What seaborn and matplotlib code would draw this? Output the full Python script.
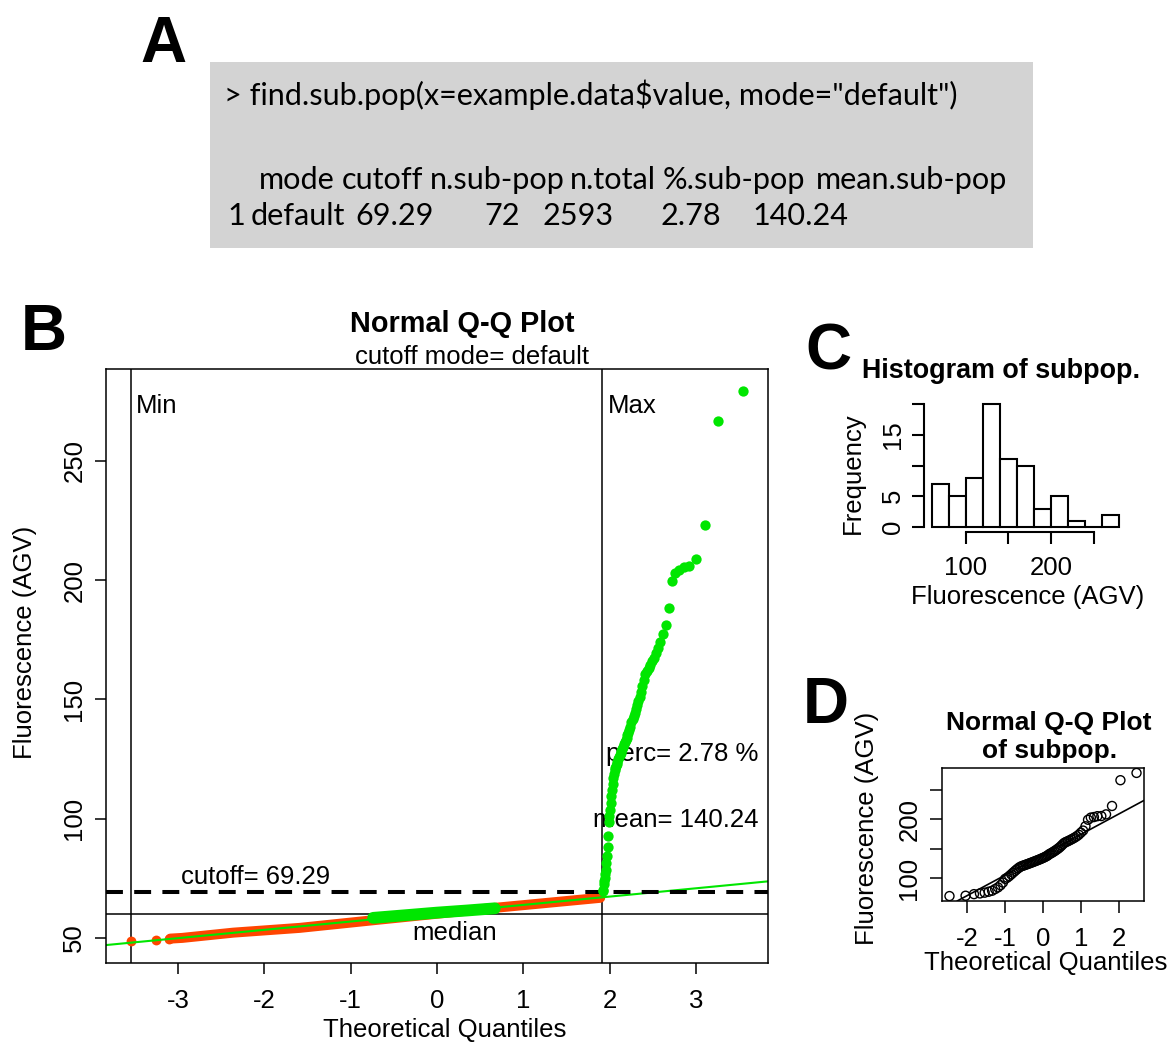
import numpy as np
import matplotlib
matplotlib.use("Agg")
import matplotlib.pyplot as plt
from matplotlib.patches import Rectangle
import seaborn as sns
from statistics import NormalDist

# ---------------- data ----------------
call_text = '> find.sub.pop(x=example.data$value, mode="default")'
summary_header = ["mode", "cutoff", "n.sub-pop", "n.total", "%.sub-pop", "mean.sub-pop"]
summary_row = ["1", "default", "69.29", "72", "2593", "2.78", "140.24"]

n_total = 2593
cutoff = 69.29
median_value = 59.9
quartiles_all = [58.0, 62.7]
perc_sub = 2.78
mean_sub = 140.24

# values above the cutoff (sub-population), ascending
subpop = [69.5, 70.1, 72.8, 74.0, 75.3, 76.9, 78.6,
          81.5, 84.3, 88.0, 92.6, 98.8,
          100.9, 103.6, 106.5, 109.4, 112.1, 114.6, 116.9, 118.9,
          120.3, 121.2, 122.1, 123.0, 123.9, 124.8, 125.7, 126.6, 127.5, 128.4,
          129.3, 130.2, 131.1, 132.0, 133.0, 134.0, 135.0, 136.1, 137.3, 138.6,
          140.6, 141.8, 143.1, 144.5, 146.0, 147.6, 149.3, 151.1, 153.2, 155.6, 158.3,
          160.5, 161.7, 163.0, 164.4, 165.9, 167.5, 169.3, 171.4, 174.0, 177.5,
          181.1, 188.4, 199.5,
          203.2, 204.1, 205.6, 205.8, 208.7,
          223.0,
          266.9, 279.3]

# the three lowest observations of the whole sample
low_tail_values = [48.7, 49.3, 49.7]
# main body of the sample below the cutoff (quantile, value)
bulk_quantiles = [-3.09, -2.95, -2.36, -1.59, -0.74, 0.67, 1.31, 1.89]
bulk_values = [49.7, 50.0, 52.2, 54.2, 57.4, 62.6, 64.8, 66.8]
# central part of the sample around the median
central_quantiles = [-0.74, -0.40, 0.00, 0.35, 0.67]
central_values = [58.4, 59.4, 60.6, 61.5, 62.4]

hist_breaks = list(range(60, 281, 20))

# ---------------- helpers ----------------
RED = "#ff4500"
GREEN = "#00e600"
W, H = 1176, 1043
nd = NormalDist()


def r_range(lo, hi):
    pad = 0.04 * (hi - lo)
    return lo - pad, hi + pad


def ppoints(n):
    a = 3 / 8 if n <= 10 else 0.5
    return [(i - a) / (n + 1 - 2 * a) for i in range(1, n + 1)]


sns.set_theme(style="ticks", rc={
    "axes.edgecolor": "black", "axes.linewidth": 1.1,
    "xtick.color": "black", "ytick.color": "black",
    "text.color": "black", "axes.labelcolor": "black",
    "axes.facecolor": "white", "figure.facecolor": "white",
    "axes.unicode_minus": False,
})
plt.rcParams["font.family"] = ["Liberation Sans", "DejaVu Sans"]
plt.rcParams["axes.unicode_minus"] = False

fig = plt.figure(figsize=(W / 100, H / 100), dpi=100)


def px_axes(x0, y0, x1, y1):
    return fig.add_axes([x0 / W, 1 - y1 / H, (x1 - x0) / W, (y1 - y0) / H])


def ftext(x, y, s, **kw):
    return fig.text(x / W, 1 - y / H, s, **kw)


LAB = 18.5

# ---------------- panel letters ----------------
for letter, (lx, ly) in zip("ABCD", [(140, 62), (21, 350), (805, 370), (803, 723)]):
    ftext(lx, ly, letter, fontsize=46, fontweight="bold", ha="left", va="baseline")

# ---------------- panel A: console output ----------------
fig.patches.append(Rectangle((210 / W, 1 - 248 / H), (1033 - 210) / W, (248 - 62) / H,
                             transform=fig.transFigure, facecolor="#d3d3d3",
                             edgecolor="none", zorder=0))
console_font = ["Lato", "DejaVu Sans"]
t_call = ftext(224, 105, call_text, family=console_font, fontsize=20, va="baseline")
fig.canvas.draw()
fs_console = 20 * (960 - 224) / t_call.get_window_extent().width
t_call.set_fontsize(fs_console)

header_x = [259, 342, 430, 570, 663, 816]
row_x = [227, 251, 355, 484, 543, 661, 752]
for s, x in zip(summary_header, header_x):
    ftext(x, 189, s, family=console_font, fontsize=fs_console, va="baseline")
for s, x in zip(summary_row, row_x):
    ftext(x, 225, s, family=console_font, fontsize=fs_console, va="baseline")

# ---------------- panel B: Q-Q plot of the whole sample ----------------
axB = px_axes(106, 369, 768, 963)
low_q = [nd.inv_cdf(p) for p in [(i - 0.5) / n_total for i in (1, 2, 3)]]
top_q = [nd.inv_cdf((i - 0.5) / n_total) for i in range(n_total - len(subpop) + 1, n_total + 1)]
min_line = low_q[0]
max_line = nd.inv_cdf(1 - len(subpop) / n_total)

axB.set_xlim(*r_range(low_q[0], top_q[-1]))
axB.set_ylim(*r_range(min(low_tail_values), max(subpop)))

axB.axvline(min_line, color="black", lw=1.1, zorder=1)
axB.axvline(max_line, color="black", lw=1.1, zorder=1)
axB.axhline(median_value, color="black", lw=1.1, zorder=1)

sns.lineplot(x=bulk_quantiles, y=bulk_values, ax=axB, color=RED, linewidth=7.2,
             estimator=None, sort=False, solid_capstyle="round", zorder=2)
sns.scatterplot(x=low_q, y=low_tail_values, ax=axB, color=RED, s=50, linewidth=0, zorder=2)
sns.lineplot(x=central_quantiles, y=central_values, ax=axB, color=GREEN, linewidth=8.5,
             estimator=None, sort=False, solid_capstyle="round", zorder=2.2)
axB.axline((nd.inv_cdf(0.25), quartiles_all[0]), (nd.inv_cdf(0.75), quartiles_all[1]),
           color=GREEN, lw=1.5, zorder=2.4)
axB.axhline(cutoff, color="black", lw=2.9, dashes=(4.2, 2.8), zorder=2.6)
sns.scatterplot(x=top_q, y=subpop, ax=axB, color=GREEN, s=55, linewidth=0, zorder=4)

axB.text(min_line + 0.06, 273, "Min", fontsize=LAB, ha="left", va="center")
axB.text(max_line + 0.06, 273, "Max", fontsize=LAB, ha="left", va="center")
axB.text(-2.96, 75.6, f"cutoff= {cutoff:.2f}", fontsize=LAB, ha="left", va="center")
axB.text(0.2, 52.0, "median", fontsize=LAB, ha="center", va="center")
axB.text(3.72, 127.0, f"perc= {perc_sub:.2f} %", fontsize=LAB, ha="right", va="center")
axB.text(3.72, 99.6, f"mean= {mean_sub:.2f}", fontsize=LAB, ha="right", va="center")

axB.set_xticks(range(-3, 4))
axB.set_yticks(range(50, 251, 50))
axB.tick_params(axis="both", length=7.9, width=1.1, labelsize=LAB)
axB.tick_params(axis="x", pad=10.6)
axB.tick_params(axis="y", pad=6.3)
for lab in axB.get_yticklabels():
    lab.set_rotation(90)
    lab.set_va("center")
axB.set_xlabel("")
axB.set_ylabel("")
for sp in axB.spines.values():
    sp.set_visible(True)
    sp.set_linewidth(1.1)

ftext(462, 331.7, "Normal Q-Q Plot", fontsize=20.8, fontweight="bold", ha="center", va="baseline")
ftext(472, 364, "cutoff mode= default", fontsize=LAB, ha="center", va="baseline")
ftext(445, 1030, "Theoretical Quantiles", fontsize=LAB, ha="center", va="center")
ftext(25, 642, "Fluorescence (AGV)", fontsize=LAB, ha="center", va="center", rotation=90)

# ---------------- panel C: histogram of the sub-population ----------------
axC = px_axes(924, 399, 1127, 532)
counts, _ = np.histogram(subpop, bins=hist_breaks)
sns.histplot(x=subpop, bins=hist_breaks, ax=axC, color="white", edgecolor="black",
             linewidth=1.5, alpha=1)
axC.set_xlim(*r_range(hist_breaks[0], hist_breaks[-1]))
axC.set_ylim(*r_range(0, counts.max()))
axC.spines["top"].set_visible(False)
axC.spines["right"].set_visible(False)
axC.spines["left"].set_bounds(0, 20)
axC.spines["bottom"].set_bounds(100, 250)
for sp in ("left", "bottom"):
    axC.spines[sp].set_linewidth(1.5)
axC.set_yticks([0, 5, 10, 15, 20])
axC.set_yticklabels(["0", "5", "", "15", ""])
axC.set_xticks([100, 150, 200, 250])
axC.set_xticklabels(["100", "", "200", ""])
axC.tick_params(axis="both", length=8.6, width=1.5, labelsize=LAB)
axC.tick_params(axis="x", pad=8.7)
axC.tick_params(axis="y", pad=5.3)
for lab in axC.get_yticklabels():
    lab.set_rotation(90)
    lab.set_va("center")
axC.set_xlabel("")
axC.set_ylabel("")
ftext(1001, 378, "Histogram of subpop.", fontsize=19.4, fontweight="bold", ha="center", va="baseline")
ftext(1028, 597, "Fluorescence (AGV)", fontsize=LAB, ha="center", va="center")
ftext(853, 473, "Frequency", fontsize=LAB, ha="center", va="center", rotation=90)

# ---------------- panel D: Q-Q plot of the sub-population ----------------
axD = px_axes(942, 768, 1144, 901)
qD = [nd.inv_cdf(p) for p in ppoints(len(subpop))]
sns.scatterplot(x=qD, y=subpop, ax=axD, color="black", s=42, zorder=3)
coll = axD.collections[-1]
coll.set_facecolor("none")
coll.set_edgecolor("black")
coll.set_linewidth(1.0)
q1, q3 = np.quantile(subpop, [0.25, 0.75])
axD.axline((nd.inv_cdf(0.25), q1), (nd.inv_cdf(0.75), q3), color="black", lw=1.2, zorder=2)
axD.set_xlim(*r_range(qD[0], qD[-1]))
axD.set_ylim(*r_range(min(subpop), max(subpop)))
axD.set_xticks(range(-2, 3))
axD.set_yticks([100, 150, 200, 250])
axD.set_yticklabels(["100", "", "200", ""])
axD.tick_params(axis="both", length=8.6, width=1.1, labelsize=LAB)
axD.tick_params(axis="x", pad=10.4)
axD.tick_params(axis="y", pad=6.3)
for lab in axD.get_yticklabels():
    lab.set_rotation(90)
    lab.set_va("center")
for sp in axD.spines.values():
    sp.set_visible(True)
    sp.set_linewidth(1.1)
axD.set_xlabel("")
axD.set_ylabel("")
ftext(1049, 730, "Normal Q-Q Plot", fontsize=19, fontweight="bold", ha="center", va="baseline")
ftext(1050, 758, "of subpop.", fontsize=19, fontweight="bold", ha="center", va="baseline")
ftext(1046, 963, "Theoretical Quantiles", fontsize=LAB, ha="center", va="center")
ftext(867, 828, "Fluorescence (AGV)", fontsize=LAB, ha="center", va="center", rotation=90)

fig.savefig("out.png", dpi=100)
